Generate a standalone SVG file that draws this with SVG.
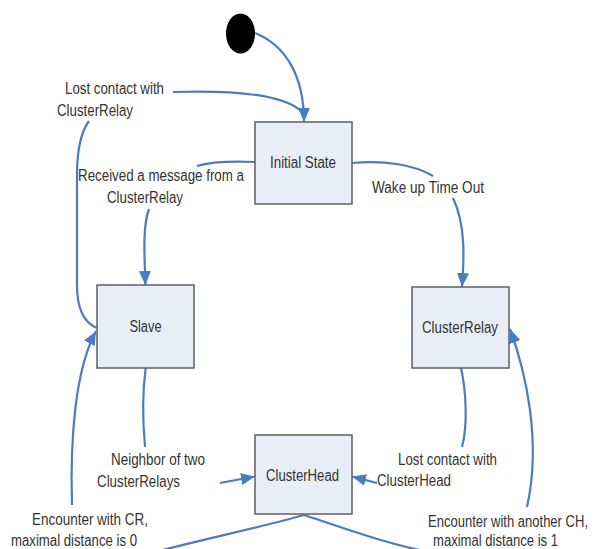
<svg xmlns="http://www.w3.org/2000/svg" width="595" height="549" viewBox="0 0 595 549">
<defs>
<style>
.node rect{fill:#e8eef8;stroke:#5f5f5f;stroke-width:1.5}
text{font-family:"Liberation Sans Narrow","Arial Narrow","Liberation Sans",Arial,sans-serif;font-size:16px;fill:#333333}
.edge{fill:none;stroke:#4a7cc5;stroke-width:2.2}
.arr{marker-end:url(#ah)}
</style>
<marker id="ah" markerUnits="userSpaceOnUse" markerWidth="15" markerHeight="12" refX="14" refY="6" orient="auto">
<path d="M0,0 L14,6 L0,12 z" fill="#4a7cc5"/>
</marker>
</defs>
<rect width="595" height="549" fill="#ffffff"/>
<g id="connectors">
<path class="edge arr" d="M255,33 C285,45 304,75 304,122"/>
<path class="edge" d="M97,328 C82,322 77,305 77,285 L77,175 C77,150 81,132 89,121"/>
<path class="edge" d="M173,92 C235,90 285,95 302,112"/>
<path class="edge" d="M255,162 C230,161 210,162 197,166"/>
<path class="edge arr" d="M149,209 C143,225 144,250 145.5,285"/>
<path class="edge" d="M352,163 C385,160 415,165 433,176"/>
<path class="edge arr" d="M453,198 C466,225 464,260 462,287"/>
<path class="edge" d="M461,368 C466,390 468,425 462,447"/>
<path class="edge arr" d="M377,483 L352,476.5"/>
<path class="edge" d="M145.7,368 C142,395 143,425 145,447"/>
<path class="edge arr" d="M220,483 L255,476.5"/>
<path class="edge" d="M304,515 C270,525 200,540 155,552"/>
<path class="edge arr" d="M72,505 C70,440 75,370 96,331"/>
<path class="edge" d="M304,515 C350,530 390,545 430,552"/>
<path class="edge arr" d="M527,507 C542,440 525,370 510,329"/>
</g>
<g id="labels">
<text x="65" y="94" textLength="99" lengthAdjust="spacingAndGlyphs">Lost contact with</text>
<text x="57" y="116" textLength="76" lengthAdjust="spacingAndGlyphs">ClusterRelay</text>
<text x="78" y="181" textLength="166" lengthAdjust="spacingAndGlyphs">Received a message from a</text>
<text x="107" y="202.5" textLength="76" lengthAdjust="spacingAndGlyphs">ClusterRelay</text>
<text x="372" y="193" textLength="112" lengthAdjust="spacingAndGlyphs">Wake up Time Out</text>
<text x="111" y="465" textLength="94" lengthAdjust="spacingAndGlyphs">Neighbor of two</text>
<text x="97" y="486.5" textLength="83" lengthAdjust="spacingAndGlyphs">ClusterRelays</text>
<text x="398" y="465" textLength="99" lengthAdjust="spacingAndGlyphs">Lost contact with</text>
<text x="377" y="486" textLength="74" lengthAdjust="spacingAndGlyphs">ClusterHead</text>
<text x="32" y="524.5" textLength="116" lengthAdjust="spacingAndGlyphs">Encounter with CR,</text>
<text x="11" y="545.5" textLength="126" lengthAdjust="spacingAndGlyphs">maximal distance is 0</text>
<text x="428" y="527" textLength="160" lengthAdjust="spacingAndGlyphs">Encounter with another CH,</text>
<text x="433" y="545.5" textLength="125" lengthAdjust="spacingAndGlyphs">maximal distance is 1</text>
</g>
<g id="start"><ellipse cx="240.5" cy="33.5" rx="14.5" ry="20" fill="#000000"/></g>
<g id="initial" class="node"><rect x="255" y="122" width="97" height="82"/><text x="270" y="168" textLength="66" lengthAdjust="spacingAndGlyphs">Initial State</text></g>
<g id="slave" class="node"><rect x="97" y="285" width="97" height="83"/><text x="129.5" y="332" textLength="32" lengthAdjust="spacingAndGlyphs">Slave</text></g>
<g id="clusterrelay" class="node"><rect x="412" y="287" width="97" height="81"/><text x="422" y="332.5" textLength="76" lengthAdjust="spacingAndGlyphs">ClusterRelay</text></g>
<g id="clusterhead" class="node"><rect x="255" y="435" width="97" height="79"/><text x="266" y="480.5" textLength="73" lengthAdjust="spacingAndGlyphs">ClusterHead</text></g>
</svg>
